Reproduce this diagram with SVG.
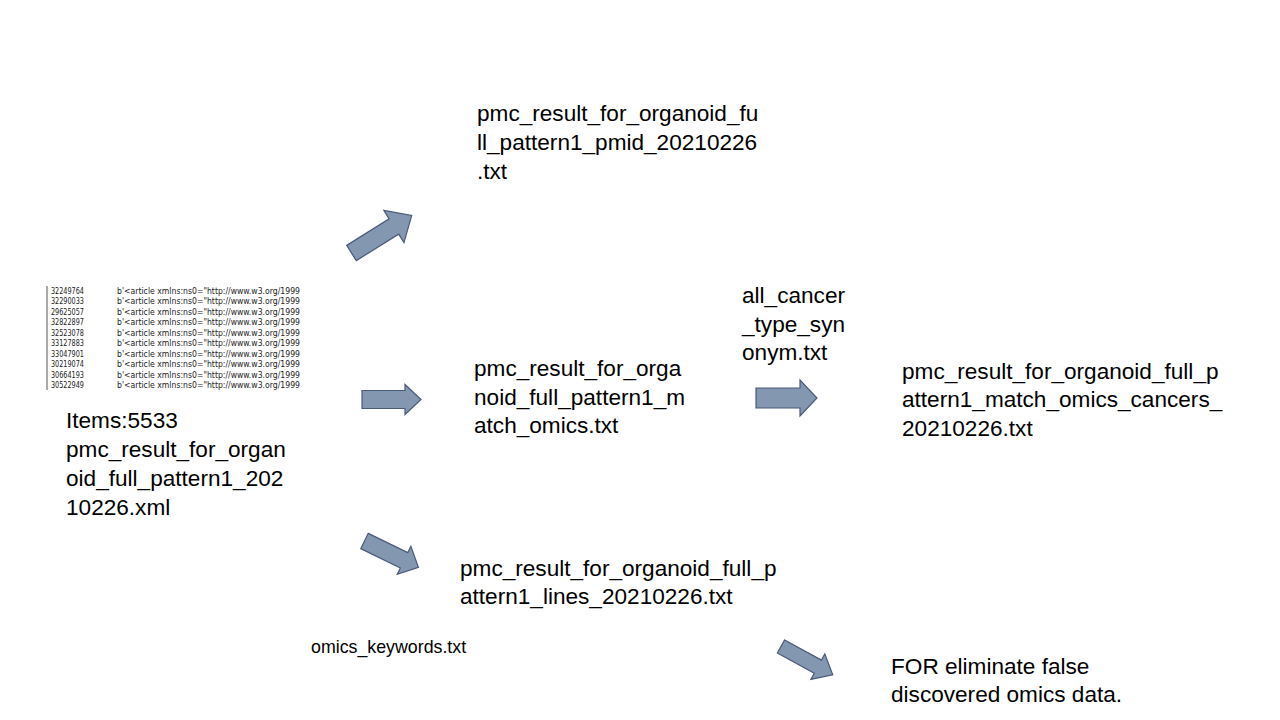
<svg xmlns="http://www.w3.org/2000/svg" width="1280" height="720" viewBox="0 0 1280 720">
<style>
.lbl{font-family:"Liberation Sans",Arial,sans-serif;font-size:22.6px;fill:#000}
.small{font-family:"Liberation Sans",Arial,sans-serif;font-size:17.8px;fill:#000}
.tbl{font-family:"DejaVu Sans Condensed","DejaVu Sans",sans-serif;font-size:9.5px;fill:#222}
.arr{fill:#8497B0;stroke:#4A5A78;stroke-width:1.2}
</style>
<rect width="1280" height="720" fill="#fff"/>
<g id="source-table">
<rect x="46" y="286" width="2" height="104" fill="#aaa"/>
<g class="tbl">
<text x="51" y="293.5" textLength="33" lengthAdjust="spacingAndGlyphs">32249764</text>
<text x="51" y="304" textLength="33" lengthAdjust="spacingAndGlyphs">32290033</text>
<text x="51" y="314.5" textLength="33" lengthAdjust="spacingAndGlyphs">29625057</text>
<text x="51" y="325" textLength="33" lengthAdjust="spacingAndGlyphs">32822897</text>
<text x="51" y="335.5" textLength="33" lengthAdjust="spacingAndGlyphs">32523078</text>
<text x="51" y="346" textLength="33" lengthAdjust="spacingAndGlyphs">33127883</text>
<text x="51" y="356.5" textLength="33" lengthAdjust="spacingAndGlyphs">33047901</text>
<text x="51" y="367" textLength="33" lengthAdjust="spacingAndGlyphs">30219074</text>
<text x="51" y="377.5" textLength="33" lengthAdjust="spacingAndGlyphs">30664193</text>
<text x="51" y="388" textLength="33" lengthAdjust="spacingAndGlyphs">30522949</text>
<text x="117" y="293.5" textLength="183" lengthAdjust="spacingAndGlyphs">b'&lt;article xmlns:ns0="http://www.w3.org/1999</text>
<text x="117" y="304" textLength="183" lengthAdjust="spacingAndGlyphs">b'&lt;article xmlns:ns0="http://www.w3.org/1999</text>
<text x="117" y="314.5" textLength="183" lengthAdjust="spacingAndGlyphs">b'&lt;article xmlns:ns0="http://www.w3.org/1999</text>
<text x="117" y="325" textLength="183" lengthAdjust="spacingAndGlyphs">b'&lt;article xmlns:ns0="http://www.w3.org/1999</text>
<text x="117" y="335.5" textLength="183" lengthAdjust="spacingAndGlyphs">b'&lt;article xmlns:ns0="http://www.w3.org/1999</text>
<text x="117" y="346" textLength="183" lengthAdjust="spacingAndGlyphs">b'&lt;article xmlns:ns0="http://www.w3.org/1999</text>
<text x="117" y="356.5" textLength="183" lengthAdjust="spacingAndGlyphs">b'&lt;article xmlns:ns0="http://www.w3.org/1999</text>
<text x="117" y="367" textLength="183" lengthAdjust="spacingAndGlyphs">b'&lt;article xmlns:ns0="http://www.w3.org/1999</text>
<text x="117" y="377.5" textLength="183" lengthAdjust="spacingAndGlyphs">b'&lt;article xmlns:ns0="http://www.w3.org/1999</text>
<text x="117" y="388" textLength="183" lengthAdjust="spacingAndGlyphs">b'&lt;article xmlns:ns0="http://www.w3.org/1999</text>
</g>
</g>
<g id="source">
<text class="lbl" x="66" y="428">Items:5533</text>
<text class="lbl" x="66" y="457">pmc_result_for_organ</text>
<text class="lbl" x="66" y="486">oid_full_pattern1_202</text>
<text class="lbl" x="66" y="515">10226.xml</text>
</g>
<g id="pmid">
<text class="lbl" x="477" y="121">pmc_result_for_organoid_fu</text>
<text class="lbl" x="477" y="150">ll_pattern1_pmid_20210226</text>
<text class="lbl" x="477" y="179">.txt</text>
</g>
<g id="match-omics">
<text class="lbl" x="474" y="376">pmc_result_for_orga</text>
<text class="lbl" x="474" y="405">noid_full_pattern1_m</text>
<text class="lbl" x="474" y="433">atch_omics.txt</text>
</g>
<g id="cancer-synonym">
<text class="lbl" x="742" y="303">all_cancer</text>
<text class="lbl" x="742" y="332">_type_syn</text>
<text class="lbl" x="742" y="360">onym.txt</text>
</g>
<g id="match-cancers">
<text class="lbl" x="902" y="379">pmc_result_for_organoid_full_p</text>
<text class="lbl" x="902" y="407">attern1_match_omics_cancers_</text>
<text class="lbl" x="902" y="436">20210226.txt</text>
</g>
<g id="lines">
<text class="lbl" x="460" y="576">pmc_result_for_organoid_full_p</text>
<text class="lbl" x="460" y="604">attern1_lines_20210226.txt</text>
</g>
<g id="keywords">
<text class="small" x="311" y="653">omics_keywords.txt</text>
</g>
<g id="eliminate">
<text class="lbl" x="891" y="674">FOR eliminate false</text>
<text class="lbl" x="891" y="702">discovered omics data.</text>
</g>
<g id="connectors">
<path class="arr" transform="translate(351.5,253) rotate(-32)" d="M0,-9 H50 V-19 L71,0 L50,19 V9 H0 Z"/>
<path class="arr" transform="translate(362,399.5)" d="M0,-9 H43 V-15 L59,0 L43,15 V9 H0 Z"/>
<path class="arr" transform="translate(364.5,541) rotate(26)" d="M0,-8.5 H44 V-15.5 L60,0 L44,15.5 V8.5 H0 Z"/>
<path class="arr" transform="translate(756,398)" d="M0,-10 H44 V-18 L61,0 L44,18 V10 H0 Z"/>
<path class="arr" transform="translate(781,646.5) rotate(28.7)" d="M0,-7.5 H42 V-14.5 L59,0 L42,14.5 V7.5 H0 Z"/>
</g>
</svg>
